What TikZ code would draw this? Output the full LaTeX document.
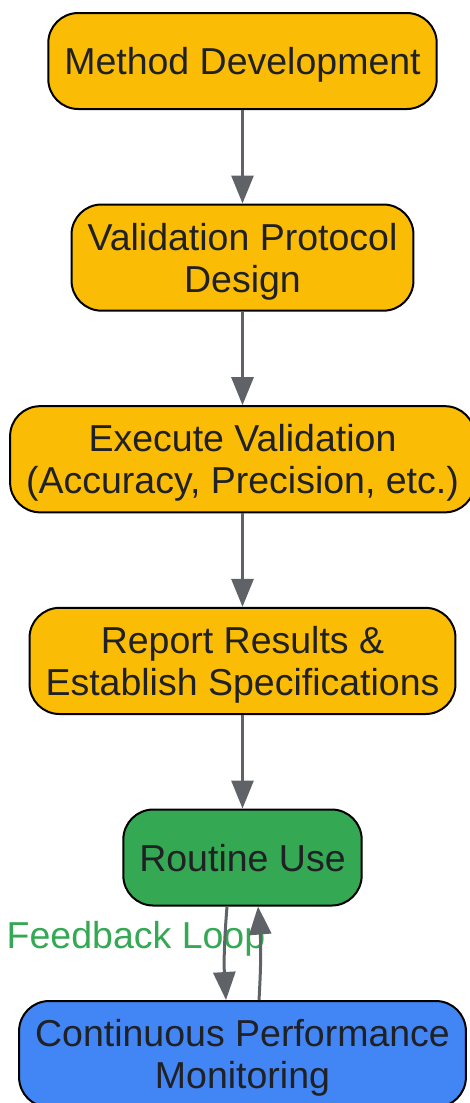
\documentclass[tikz,border=0pt]{standalone}
\usepackage{fontspec}
\setmainfont{Liberation Sans}
\usetikzlibrary{positioning,arrows.meta}
\definecolor{stepyellow}{HTML}{FBBC05}
\definecolor{usegreen}{HTML}{34A853}
\definecolor{monblue}{HTML}{4285F4}
\definecolor{textdark}{HTML}{202124}
\definecolor{arrowgray}{HTML}{5F6368}

\begin{document}
\begin{tikzpicture}[x=1pt, y=1pt, node distance=93.5pt,
    font=\fontsize{37.5}{42}\selectfont,
    stage/.style={draw=black, line width=2pt, fill=stepyellow, text=textdark,
      rounded corners=30pt, align=center, inner xsep=16pt, inner ysep=18.5pt,
      text depth=0pt, minimum height=96pt},
    flow/.style={draw=arrowgray, line width=3pt,
      -{Triangle[length=28pt, width=22pt]}}]
    \useasboundingbox (0,0) rectangle (470,-1103);
    \node[stage] (dev) at (242.5,-61) {Method Development};
    \node[stage] (proto) [below=of dev] {Validation Protocol\\Design};
    \node[stage] (exec) [below=of proto] {Execute Validation\\(Accuracy, Precision, etc.)};
    \node[stage] (report) [below=of exec] {Report Results \&\\Establish Specifications};
    \node[stage, fill=usegreen] (routine) [below=of report] {Routine Use};
    \node[stage, fill=monblue] (monitor) [below=of routine] {Continuous Performance\\Monitoring};
    \node[text=usegreen] (fb) at (136,-939) {Feedback Loop};
    \draw[flow] (dev) -- (proto);
    \draw[flow] (proto) -- (exec);
    \draw[flow] (exec) -- (report);
    \draw[flow] (report) -- (routine);
    \draw[flow] ([xshift=-15.5pt]routine.south) to[bend right=4] ([xshift=-16.5pt]monitor.north);
    \draw[flow] ([xshift=16.5pt]monitor.north) to[bend right=4] ([xshift=15.5pt]routine.south);
\end{tikzpicture}
\end{document}
